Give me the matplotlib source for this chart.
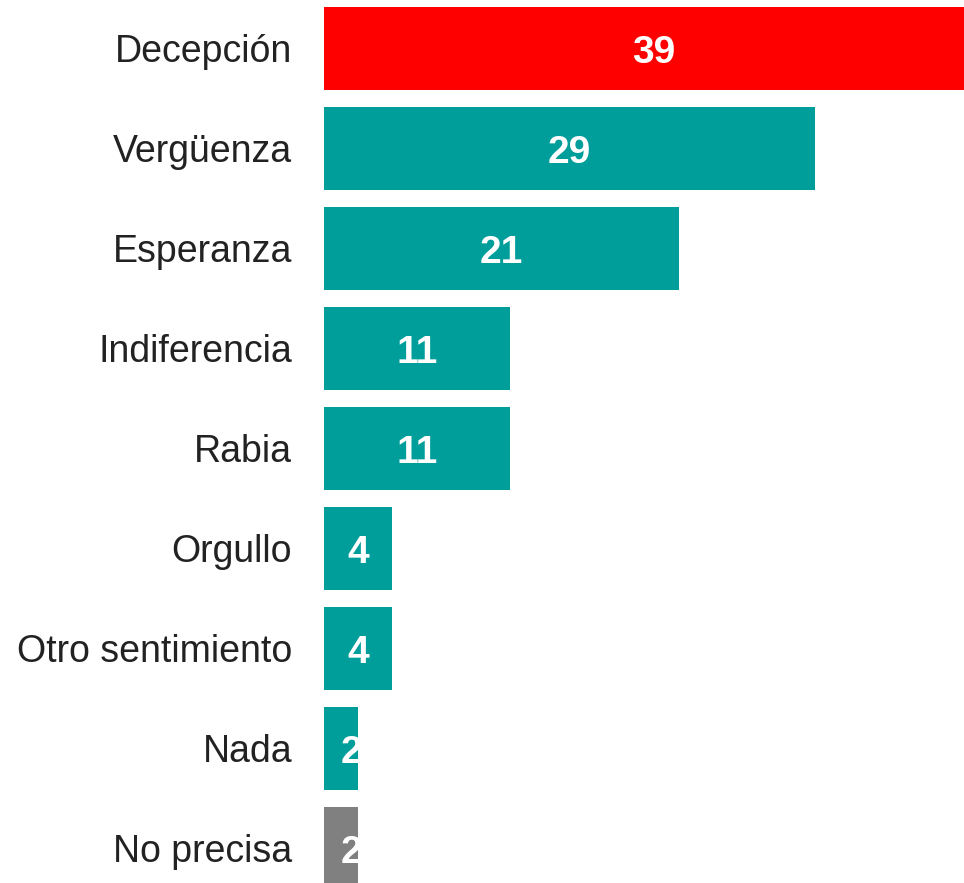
import matplotlib.pyplot as plt

categories = ["Decepción", "Vergüenza", "Esperanza", "Indiferencia", "Rabia",
              "Orgullo", "Otro sentimiento", "Nada", "No precisa"]
values = [39, 29, 21, 11, 11, 4, 4, 2, 2]
colors = ["#FF0000"] + ["#009E9B"] * 7 + ["#808080"]

plt.rcParams['font.family'] = ['Liberation Sans', 'DejaVu Sans']

fig = plt.figure(figsize=(9.64, 8.83), dpi=100)
# axes runs past the right and bottom edges, like the original crop
ax = fig.add_axes([324 / 964, 0, 660 / 964, 1])

ypos = list(range(len(categories)))
bars = ax.barh(ypos, values, height=0.83, color=colors)
ax.set_xlim(0, 39)
ax.set_ylim(8.35, -0.48)

ax.set_yticks(ypos)
ax.set_yticklabels(categories, fontsize=27, color="#222222")
ax.tick_params(axis='y', length=0, pad=23)
ax.set_xticks([])
for s in ax.spines.values():
    s.set_visible(False)

for bar, v in zip(bars, values):
    x = v / 2 if v > 2 else 1.6
    t = ax.text(x, bar.get_y() + bar.get_height() / 2 + 0.01, str(v), color="white",
                fontsize=28, fontweight="bold", ha="center", va="center_baseline")
    t.set_clip_path(bar)

fig.savefig("out.png", dpi=100)
